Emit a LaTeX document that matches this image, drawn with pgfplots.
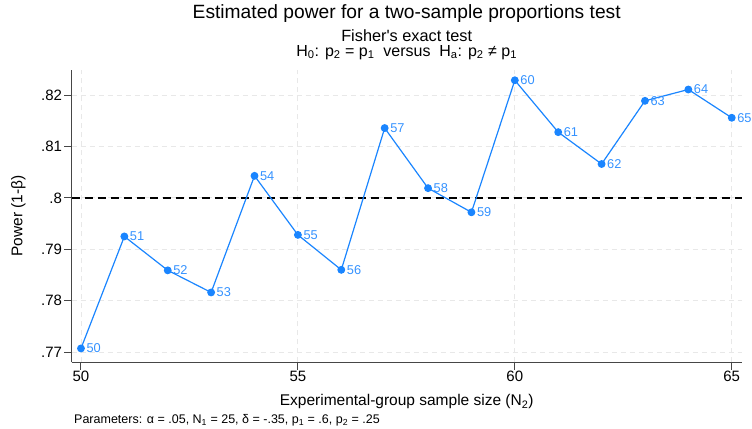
\documentclass[border=0pt]{standalone}
\usepackage{fontspec}
\setmainfont{Liberation Sans}
\usepackage{pgfplots}
\pgfplotsset{compat=1.18}
\definecolor{stblue}{RGB}{26,133,255}
\definecolor{lblue}{RGB}{51,145,255}
\definecolor{gridc}{RGB}{232,232,232}
\definecolor{axc}{RGB}{70,70,70}
\begin{document}
\begin{tikzpicture}[x=1bp,y=1bp]
\path[use as bounding box] (0,0) rectangle (752,428);
\begin{axis}[
  at={(71.7bp,65.7bp)}, anchor=south west,
  scale only axis, width=670bp, height=292.3bp,
  xmin=49.786, xmax=65.23, ymin=0.768, ymax=0.8249,
  axis x line*=bottom, axis y line*=left,
  axis line style={axc, line width=1.1bp, -},
  xtick={50,55,60,65}, ytick={0.77,0.78,0.79,0.80,0.81,0.82},
  yticklabels={.77,.78,.79,.8,.81,.82},
  xticklabels={50,55,60,65},
  tick align=outside, major tick length=7.5bp,
  tick style={axc, line width=1bp},
  xticklabel style={font=\fontsize{15bp}{18bp}\selectfont, inner sep=0pt, yshift=-1.5bp},
  yticklabel style={font=\fontsize{15bp}{18bp}\selectfont, inner sep=0pt, xshift=-2bp},
  grid=major,
  major grid style={gridc, dash pattern=on 5bp off 4bp, line width=0.9bp},
  clip=false,
]
\addplot[black, line width=1.2bp, dash pattern=on 8bp off 5bp, forget plot] coordinates {(49.786,0.80) (65.23,0.80)};
\addplot[stblue, line width=1.2bp, mark=*, mark size=3.3bp, mark options={fill=stblue, draw=stblue},
  point meta=explicit symbolic, nodes near coords,
  nodes near coords style={anchor=west, inner sep=0pt, xshift=5bp, text=lblue, font=\fontsize{12.8bp}{15bp}\selectfont}]
coordinates {
(50,0.7707) [50]
(51,0.7925) [51]
(52,0.7859) [52]
(53,0.7816) [53]
(54,0.8043) [54]
(55,0.7928) [55]
(56,0.7860) [56]
(57,0.8136) [57]
(58,0.8019) [58]
(59,0.7972) [59]
(60,0.8229) [60]
(61,0.8128) [61]
(62,0.8066) [62]
(63,0.8189) [63]
(64,0.8211) [64]
(65,0.8156) [65]
};
\end{axis}
\node[font=\fontsize{19.2bp}{22bp}\selectfont, inner sep=0pt] at (406.7,414.5) {Estimated power for a two-sample proportions test};
\node[font=\fontsize{16.3bp}{19bp}\selectfont, inner sep=0pt] at (406.7,392) {Fisher\textquotesingle s exact test};
\node[font=\fontsize{16bp}{19bp}\selectfont, inner sep=0pt] at (406.7,375.5) {H\textsubscript{0}: p\textsubscript{2} = p\textsubscript{1}\ \ versus\ \ H\textsubscript{a}: p\textsubscript{2} ≠ p\textsubscript{1}};
\node[font=\fontsize{15.5bp}{18bp}\selectfont, inner sep=0pt] at (406.7,26.3) {Experimental-group sample size (N\textsubscript{2})};
\node[font=\fontsize{15.5bp}{18bp}\selectfont, inner sep=0pt, rotate=90] at (18.3,212) {Power (1-β)};
\node[font=\fontsize{12.5bp}{15bp}\selectfont, inner sep=0pt, anchor=west] at (74,8) {Parameters: α = .05, N\textsubscript{1} = 25, δ = -.35, p\textsubscript{1} = .6, p\textsubscript{2} = .25};
\end{tikzpicture}
\end{document}
